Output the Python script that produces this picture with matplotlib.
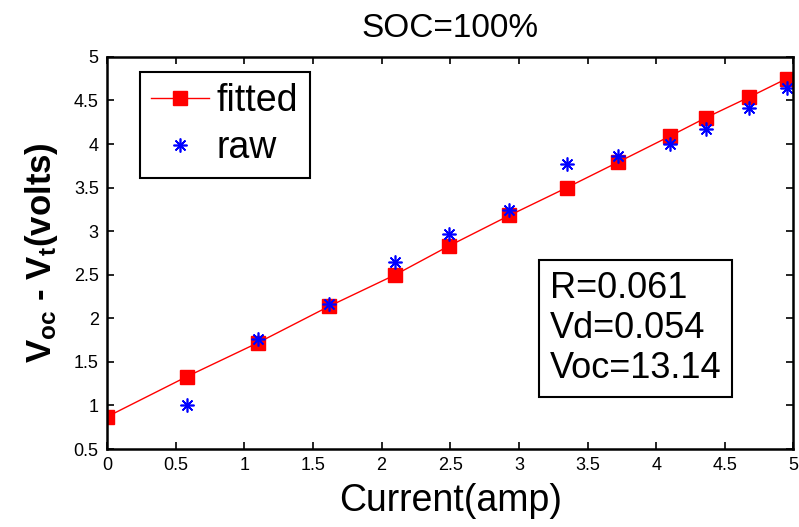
import matplotlib
matplotlib.use("Agg")
import matplotlib.pyplot as plt
from matplotlib.ticker import FuncFormatter, MultipleLocator

plt.rcParams['font.family'] = ['Liberation Sans', 'DejaVu Sans']
plt.rcParams['mathtext.default'] = 'regular'

# --- data ---
current_fit = [0.0, 0.58, 1.10, 1.62, 2.10, 2.49, 2.93, 3.35, 3.72, 4.10, 4.36, 4.68, 4.95]
volt_fit = [0.87, 1.33, 1.72, 2.14, 2.50, 2.83, 3.18, 3.50, 3.79, 4.09, 4.30, 4.54, 4.75]

current_raw = [0.58, 1.10, 1.62, 2.10, 2.49, 2.93, 3.35, 3.72, 4.10, 4.36, 4.68, 4.95]
volt_raw = [1.00, 1.76, 2.16, 2.65, 2.97, 3.24, 3.77, 3.86, 4.00, 4.17, 4.41, 4.64]

params_txt = "R=0.061\nVd=0.054\nVoc=13.14"

fig = plt.figure(figsize=(7.99, 5.27), dpi=100)
ax = fig.add_axes([0.134, 0.148, 0.859, 0.744])

ax.plot(current_fit, volt_fit, '-', color='red', lw=1.0, marker='s',
        markersize=10, markeredgecolor='red', markerfacecolor='red', label='fitted')
ax.plot(current_raw, volt_raw, ls='none', marker=(8, 2, 0), markersize=10,
        markeredgecolor='blue', markeredgewidth=1.2, color='blue', label='raw')

ax.set_xlim(0, 5)
ax.set_ylim(0.5, 5)
ax.xaxis.set_major_locator(MultipleLocator(0.5))
ax.yaxis.set_major_locator(MultipleLocator(0.5))
fmt = FuncFormatter(lambda v, p: f"{v:g}")
ax.xaxis.set_major_formatter(fmt)
ax.yaxis.set_major_formatter(fmt)
ax.tick_params(direction='in', top=True, right=True, length=5, width=1.2,
               labelsize=13, pad=6)
for s in ax.spines.values():
    s.set_linewidth(1.8)

ax.set_title("SOC=100%", fontsize=24, pad=14)
ax.set_xlabel("Current(amp)", fontsize=27, labelpad=6)
ax.set_ylabel("V$_{oc}$ - V$_t$(volts)", fontsize=25, fontweight='bold', labelpad=10)

leg = ax.legend(loc='upper left', bbox_to_anchor=(0.048, 0.962), borderaxespad=0,
                prop={'size': 27}, fancybox=False, edgecolor='black', framealpha=1,
                handlelength=1.55, handletextpad=0.2, borderpad=0.3, labelspacing=0.3)
leg.get_frame().set_linewidth(1.5)

ax.text(0.645, 0.455, params_txt, transform=ax.transAxes, fontsize=26,
        va='top', ha='left', linespacing=1.2,
        bbox=dict(boxstyle='square,pad=0.3', fc='white', ec='black', lw=1.5))

fig.savefig("out.png", dpi=100)
